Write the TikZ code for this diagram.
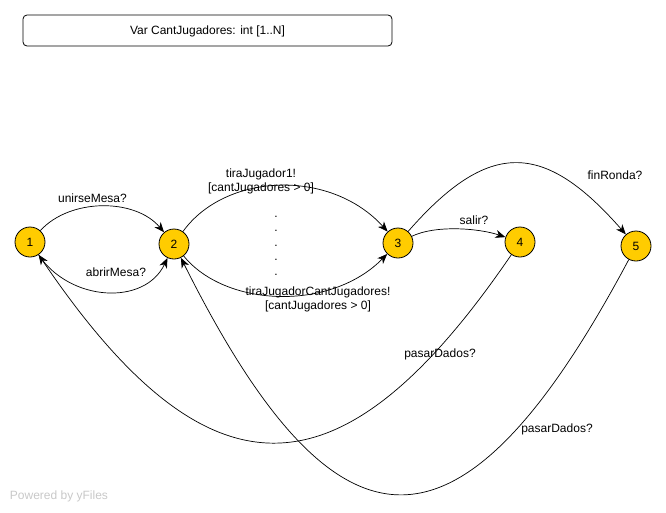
\documentclass[tikz,border=0pt]{standalone}
\usepackage{fontspec}
\setmainfont{Liberation Sans}
\usetikzlibrary{arrows.meta}
\definecolor{statefill}{RGB}{255,204,0}
\definecolor{credit}{RGB}{200,200,200}
\begin{document}
\begin{tikzpicture}[x=1pt,y=-1pt,
  every node/.style={font=\fontsize{12}{14}\selectfont},
  state/.style={circle,draw,fill=statefill,line width=0.8pt,minimum size=30pt,
    inner sep=0pt,text height=8.6pt,text depth=0pt},
  lbl/.style={inner sep=0pt,text height=8.6pt,text depth=0pt},
  lbltwo/.style={inner sep=0pt,align=center},
  trans/.style={draw,line width=0.7pt,-{Stealth[length=10pt,width=8pt,inset=3pt]}},
  ]
\useasboundingbox (0,0) rectangle (666,512);

% declaration box
\node[draw,rounded corners=4pt,minimum width=369pt,minimum height=31pt,inner sep=0pt,
  text height=8.6pt,text depth=0pt,line width=0.8pt] (var) at (207.5,30.5)
  {Var CantJugadores: int [1..N]};

% states
\node[state] (n1) at (30,242) {1};
\node[state] (n2) at (174,244) {2};
\node[state] (n3) at (398,243) {3};
\node[state] (n4) at (520,242) {4};
\node[state] (n5) at (636,246) {5};

% transitions
\draw[trans] (n1) .. controls (70,198) and (135,198) .. (n2);
\draw[trans] (n1) .. controls (70,302) and (145,306) .. (n2);
\draw[trans] (n2) .. controls (225,173) and (330,168) .. (n3);
\draw[trans] (n2) .. controls (225,307) and (330,312) .. (n3);
\draw[trans] (n3) .. controls (435,225) and (478,228) .. (n4);
\draw[trans] (n3) .. controls (489,139) and (544,141) .. (n5);
\draw[trans] (n4) .. controls (342.5,502) and (210,508) .. (n1);
\draw[trans] (n5) .. controls (460,576.6) and (336.3,568.6) .. (n2);

% transition labels
\node[lbl] (l12a) at (92.5,198) {unirseMesa?};
\node[lbl] (l12b) at (116,272) {abrirMesa?};
\node[lbltwo] (l23a) at (261,181) {tiraJugador1!\\{}[cantJugadores > 0]};
\node[lbltwo] (l23b) at (318,299) {tiraJugadorCantJugadores!\\{}[cantJugadores > 0]};
\node[lbl] (l34) at (474,220) {salir?};
\node[lbl] (l35) at (615,175) {finRonda?};
\node[lbl] (l41) at (440,353) {pasarDados?};
\node[lbl] (l52) at (557,428) {pasarDados?};

% elided transitions between 2 and 3
\foreach \y [count=\i] in {217,231,246,260,275}
  \node[inner sep=0pt,anchor=base] (dot\i) at (276,{\y+0.8}) {.};

% credit line
\node[lbl,text=credit] (credit) at (59,495) {Powered by yFiles};
\end{tikzpicture}
\end{document}
